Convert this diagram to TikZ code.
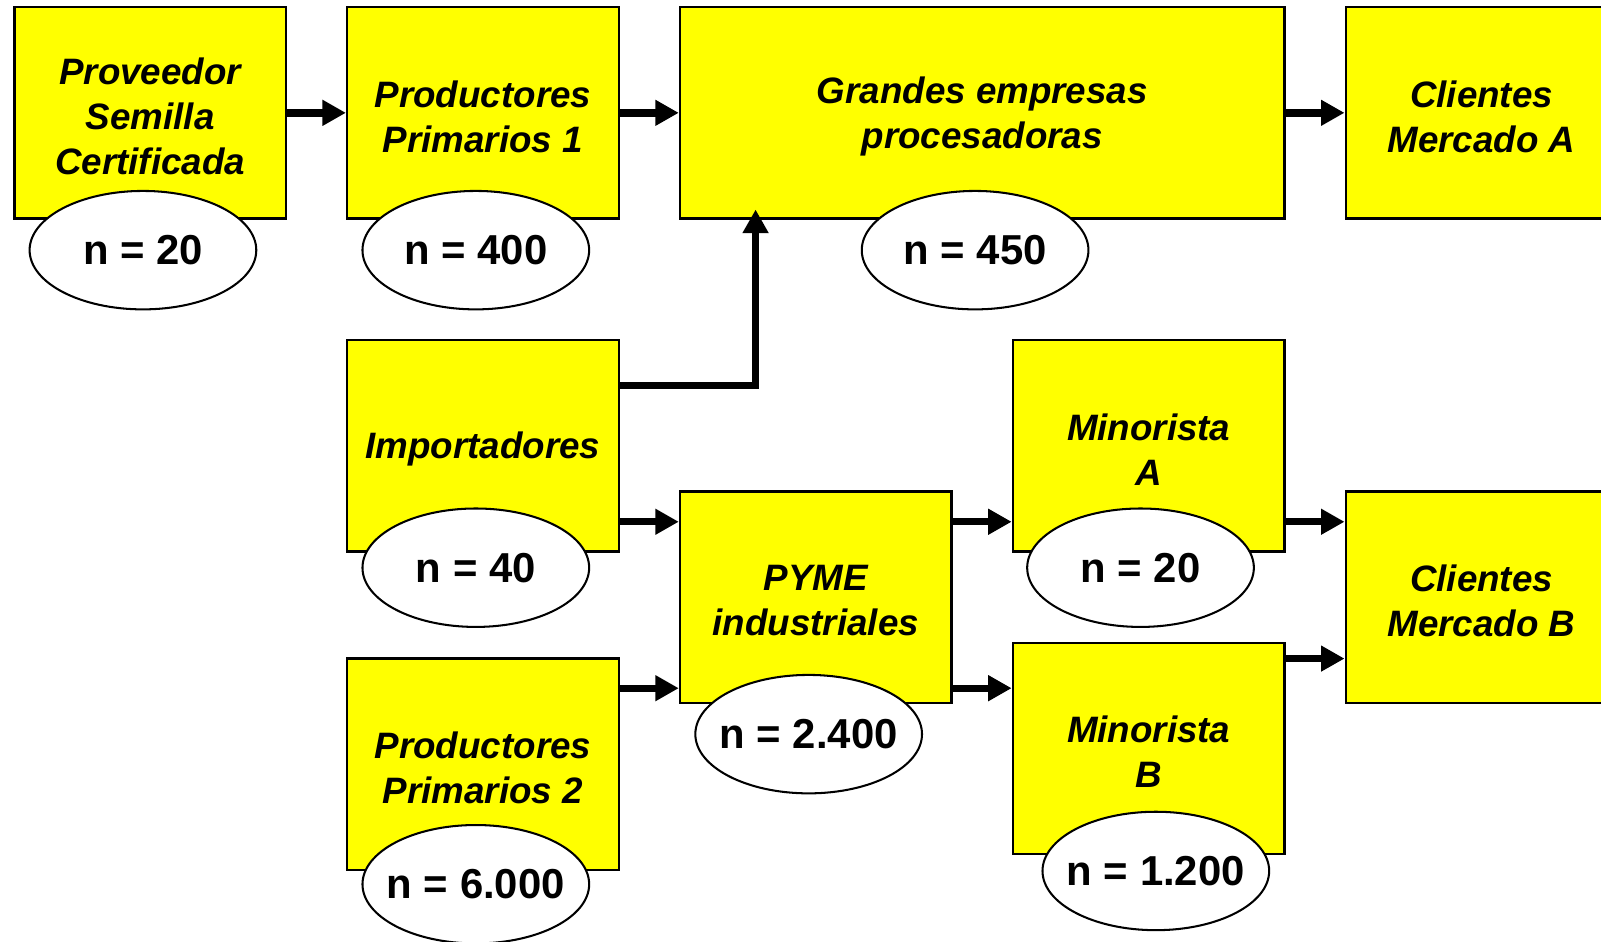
\documentclass[tikz,border=0pt]{standalone}
\usepackage{fontspec}
\setmainfont{Liberation Sans}
\usetikzlibrary{shapes.geometric,arrows.meta}
\definecolor{boxyellow}{RGB}{255,255,0}
\begin{document}
\begin{tikzpicture}[x=0.5pt,y=-0.5pt,
 box/.style={draw=black,line width=1.2pt,fill=boxyellow,minimum width=133pt,minimum height=103.5pt,inner sep=0pt,
   label={[label distance=0pt,inner sep=0pt,yshift=-1.8pt,align=center,font=\fontsize{18pt}{22pt}\selectfont\bfseries\itshape]center:#1}},
 count/.style={ellipse,draw=black,line width=1pt,fill=white,minimum width=111pt,minimum height=58pt,inner ysep=0pt,inner xsep=-15pt,font=\fontsize{20.5pt}{24pt}\selectfont\bfseries},
 flow/.style={line width=3.6pt,-{Triangle[length=11.5pt,width=12pt]}}]
\useasboundingbox (0,0) rectangle (1568,922);
% boxes
\node[box={Proveedor\\Semilla\\Certificada}] (prov) at (147,110.5) {};
\node[box={Productores\\Primarios 1}] (prod1) at (473,110.5) {};
\node[box={Grandes empresas\\procesadoras},minimum width=296pt] (grandes) at (962,110.5) {};
\node[box={Clientes\\Mercado A}] (clA) at (1451,110.5) {};
\node[box={Importadores}] (imp) at (473,436.5) {};
\node[box={Productores\\Primarios 2}] (prod2) at (473,748.5) {};
\node[box={PYME\\industriales}] (pyme) at (799,585) {};
\node[box={Minorista\\A}] (minA) at (1125,436.5) {};
\node[box={Minorista\\B}] (minB) at (1125,733) {};
\node[box={Clientes\\Mercado B}] (clB) at (1451,585) {};
% counts
\node[count] (c1) at (140,245) {n = 20};
\node[count] (c2) at (466,245) {n = 400};
\node[count] (c3) at (955,245) {n = 450};
\node[count] (c4) at (466,556) {n = 40};
\node[count] (c5) at (466,866) {n = 6.000};
\node[count] (c6) at (792,719) {n = 2.400};
\node[count] (c7) at (1117,556) {n = 20};
\node[count] (c8) at (1132,853) {n = 1.200};
% helper coordinates
\coordinate (pA) at ([yshift=37pt]pyme.west);
\coordinate (pB) at ([yshift=-44.5pt]pyme.west);
\coordinate (pC) at ([yshift=-30pt]clB.west);
% connectors
\draw[flow] (prov) -- (prod1);
\draw[flow] (prod1) -- (grandes);
\draw[flow] (grandes) -- (clA);
\draw[flow] ([yshift=29.5pt]imp.east) -| ([xshift=-111pt,yshift=5pt]grandes.south);
\draw[flow] (imp.east |- pA) -- (pA);
\draw[flow] (prod2.east |- pB) -- (pB);
\draw[flow] (pA -| pyme.east) -- (pA -| minA.west);
\draw[flow] (pB -| pyme.east) -- (pB -| minB.west);
\draw[flow] (pA -| minA.east) -- (pA -| clB.west);
\draw[flow] (pC -| minB.east) -- (pC);
\end{tikzpicture}
\end{document}
